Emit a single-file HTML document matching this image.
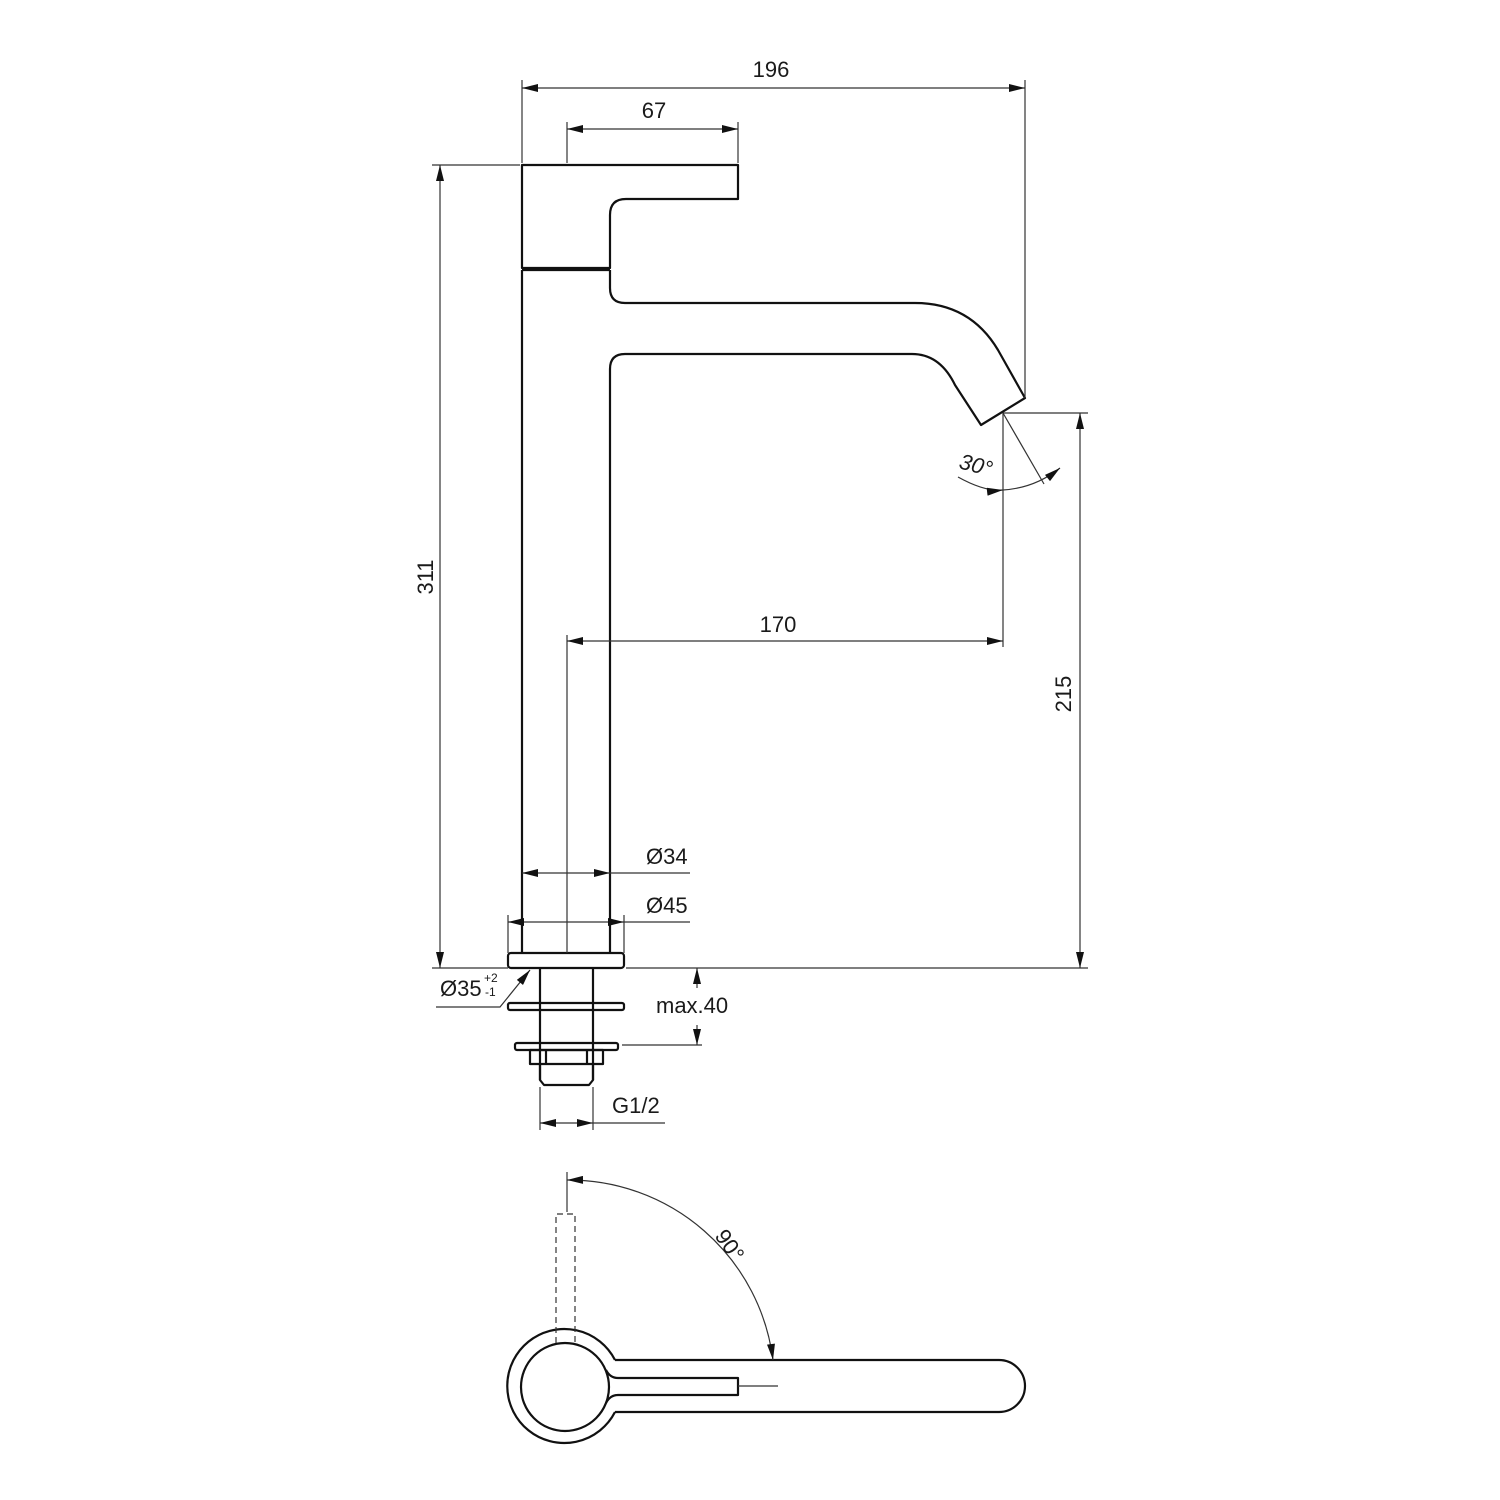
<!DOCTYPE html>
<html><head><meta charset="utf-8"><style>html,body{margin:0;padding:0;background:#fff}svg{display:block}text{font-family:"Liberation Sans",sans-serif;fill:#1a1a1a}</style></head>
<body>
<svg width="1500" height="1500" viewBox="0 0 1500 1500" xmlns="http://www.w3.org/2000/svg">
<defs>
<marker id="a" viewBox="0 0 16 8" refX="16" refY="4" markerWidth="17" markerHeight="8" markerUnits="userSpaceOnUse" orient="auto-start-reverse"><path d="M0,0L16,4L0,8z" fill="#111"/></marker>
</defs>
<g fill="none" stroke="#111" stroke-width="2.2" stroke-linejoin="round">
<path d="M522,268 L522,165 L738,165 L738,199 L626,199 Q610,199 610,215 L610,268 Z"/>
<line x1="522" y1="270" x2="610" y2="270"/>
<path d="M522,270 L522,953"/>
<path d="M610,270 L610,288 Q610,303 625,303 L915,303 Q970,303 998,350 L1025,398 L981,425 L955,385 Q940,354 912,354 L625,354 Q610,354 610,369 L610,953"/>
<rect x="508" y="953" width="116" height="15" rx="3"/>
<line x1="540" y1="968" x2="540" y2="1080"/>
<line x1="593" y1="968" x2="593" y2="1080"/>
<rect x="508" y="1003" width="116" height="7" rx="2"/>
<rect x="515" y="1043" width="103" height="7" rx="2"/>
<rect x="530" y="1050" width="73" height="14"/>
<line x1="546" y1="1050" x2="546" y2="1064"/><line x1="587" y1="1050" x2="587" y2="1064"/>
<path d="M540,1064 L540,1080 L544,1085 L589,1085 L593,1080 L593,1064"/>
<!-- bottom view -->
<path d="M615,1360 A57,57 0 1 0 615,1412"/>
<circle cx="565" cy="1387" r="44"/>
<path d="M615,1360 L999,1360 A26,26 0 0 1 999,1412 L615,1412"/>
<path d="M606,1370 Q610,1378 618,1378 L738,1378 L738,1395 L618,1395 Q610,1395 606,1403"/>
</g>
<g fill="none" stroke="#333" stroke-width="1.2">
<line x1="522" y1="80" x2="522" y2="163"/><line x1="1025" y1="80" x2="1025" y2="398"/>
<line x1="522" y1="88" x2="1025" y2="88" marker-start="url(#a)" marker-end="url(#a)"/>
<line x1="567" y1="122" x2="567" y2="163"/><line x1="738" y1="122" x2="738" y2="163"/>
<line x1="567" y1="129" x2="738" y2="129" marker-start="url(#a)" marker-end="url(#a)"/>
<line x1="432" y1="165" x2="520" y2="165"/>
<line x1="432" y1="968" x2="508" y2="968"/>
<line x1="440" y1="165" x2="440" y2="968" marker-start="url(#a)" marker-end="url(#a)"/>
<line x1="1003" y1="413" x2="1088" y2="413"/>
<line x1="626" y1="968" x2="1088" y2="968"/>
<line x1="1080" y1="413" x2="1080" y2="968" marker-start="url(#a)" marker-end="url(#a)"/>
<line x1="1003" y1="413" x2="1003" y2="647"/>
<line x1="567" y1="635" x2="567" y2="953"/>
<line x1="567" y1="641" x2="1003" y2="641" marker-start="url(#a)" marker-end="url(#a)"/>
<line x1="1003" y1="413" x2="1044" y2="484"/>
<path d="M958,477 Q985,492 1003,490" marker-end="url(#a)"/>
<path d="M1003,490 Q1035,488 1060,468" marker-end="url(#a)"/>
<line x1="522" y1="873" x2="610" y2="873" marker-start="url(#a)" marker-end="url(#a)"/>
<line x1="610" y1="873" x2="690" y2="873"/>
<line x1="508" y1="915" x2="508" y2="953"/><line x1="624" y1="915" x2="624" y2="953"/>
<line x1="508" y1="922" x2="624" y2="922" marker-start="url(#a)" marker-end="url(#a)"/>
<line x1="624" y1="922" x2="690" y2="922"/>
<line x1="622" y1="1045" x2="702" y2="1045"/>
<line x1="697" y1="968" x2="697" y2="988" marker-start="url(#a)"/>
<line x1="697" y1="1025" x2="697" y2="1045" marker-end="url(#a)"/>
<path d="M436,1007 L500,1007 L530,970" marker-end="url(#a)"/>
<line x1="540" y1="1087" x2="540" y2="1130"/><line x1="593" y1="1087" x2="593" y2="1130"/>
<line x1="540" y1="1123" x2="593" y2="1123" marker-start="url(#a)" marker-end="url(#a)"/>
<line x1="593" y1="1123" x2="665" y2="1123"/>
<line x1="567" y1="1172" x2="567" y2="1212"/>
<path d="M773,1360 A206,206 0 0 0 567,1180" marker-start="url(#a)" marker-end="url(#a)"/>
<line x1="738" y1="1386" x2="778" y2="1386"/>
<path d="M556,1343 L556,1214 L575,1214 L575,1343" stroke-dasharray="6,4"/>
</g>
<g font-size="22">
<text x="771" y="77" text-anchor="middle">196</text>
<text x="654" y="118" text-anchor="middle">67</text>
<text x="778" y="632" text-anchor="middle">170</text>
<text transform="translate(433,577) rotate(-90)" text-anchor="middle">311</text>
<text transform="translate(1071,694) rotate(-90)" text-anchor="middle">215</text>
<text x="646" y="864">Ø34</text>
<text x="646" y="913">Ø45</text>
<text x="656" y="1013">max.40</text>
<text x="612" y="1113">G1/2</text>
<text x="440" y="996">Ø35</text>
<text x="484" y="982" font-size="12">+2</text>
<text x="485" y="996" font-size="12">-1</text>
<text transform="translate(958,468) rotate(15)" font-style="italic">30°</text>
<text transform="translate(714,1236) rotate(55)">90°</text>
</g>
</svg>
</body></html>
